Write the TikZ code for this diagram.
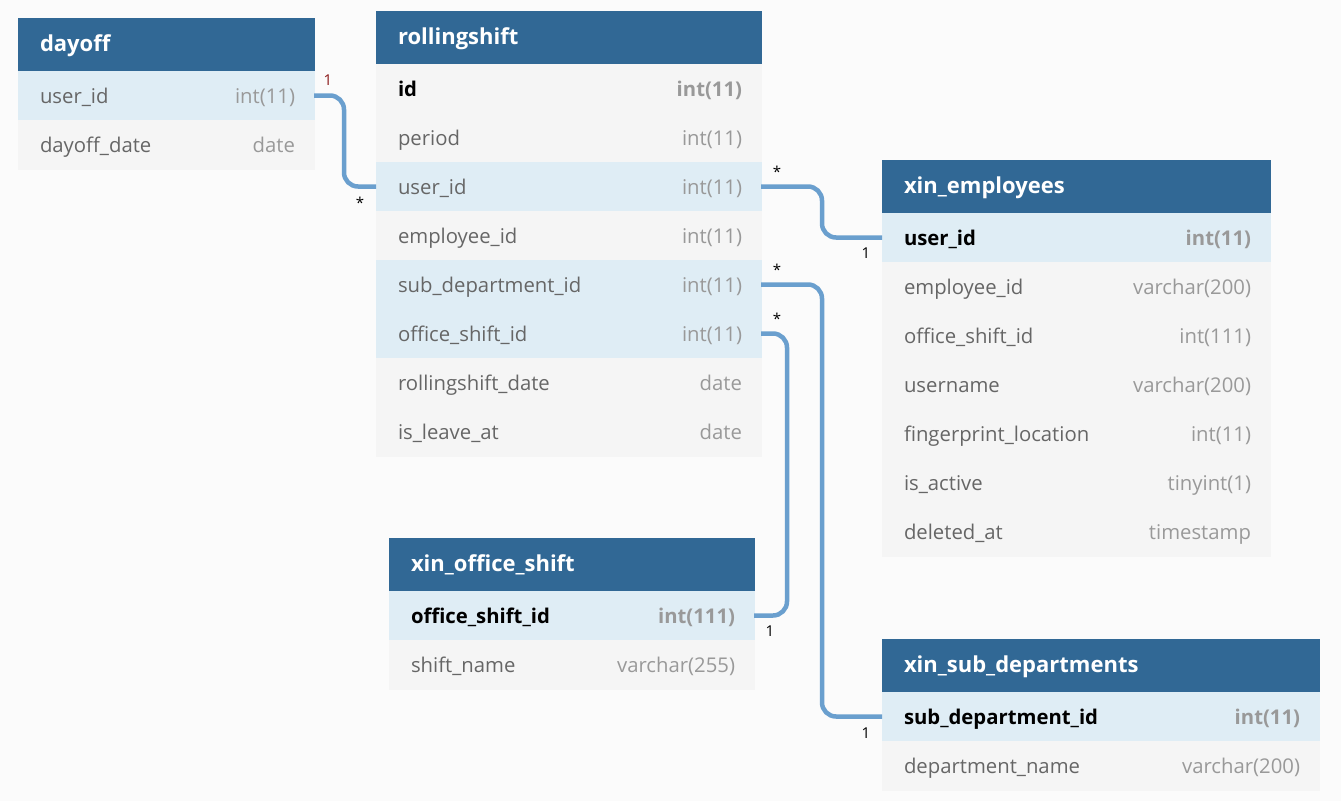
\documentclass[tikz,border=0pt]{standalone}
\usepackage{fontspec}
\setmainfont{Open Sans}
\usepackage{xcolor}
\usetikzlibrary{positioning}
\definecolor{headblue}{HTML}{316895}
\definecolor{rowblue}{HTML}{DFEDF5}
\definecolor{rowgray}{HTML}{F5F5F5}
\definecolor{pagebg}{HTML}{FBFBFB}
\definecolor{fieldgray}{HTML}{666666}
\definecolor{typegray}{HTML}{999999}
\definecolor{linkblue}{HTML}{6A9FCE}
\definecolor{onered}{HTML}{8B1A1A}
\newcommand\fld[2]{\hbox to \hsize{\color{fieldgray}#1\hfill\color{typegray}#2\kern-3pt}}
\newcommand\pk[2]{\hbox to \hsize{\bfseries\color{black}#1\hfill\color{typegray}#2\kern-3pt}}

\begin{document}
\begin{tikzpicture}[
  x=1pt, y=-1pt,
  node distance=0pt,
  every node/.style={font=\fontsize{20.3}{23}\selectfont, inner xsep=22pt, inner ysep=0pt},
  head/.style={fill=headblue, draw=headblue, line width=0.6pt, outer sep=0pt, text=white,
               font=\fontsize{22}{25}\selectfont\bfseries, minimum height=53pt,
               text height=18pt, text depth=4pt},
  row/.style={fill=rowgray, draw=rowgray, line width=0.6pt, outer sep=0pt, minimum height=49pt,
              text height=18pt, text depth=2pt},
  hrow/.style={row, fill=rowblue, draw=rowblue},
  card/.style={font=\fontsize{15}{17}\selectfont, inner sep=0pt},
  rel/.style={draw=linkblue, line width=4.5pt, rounded corners=14pt}
]
\fill[pagebg] (0,0) rectangle (1341,801);
\useasboundingbox (0,0) rectangle (1341,801);

% dayoff
\begin{scope}[every node/.append style={text width=252pt}]
\node[head, anchor=north west] (dh) at (18,18) {dayoff};
\node[hrow, below=of dh] (d-uid) {\fld{user\_id}{int(11)}};
\node[row, below=of d-uid] (d-date) {\fld{dayoff\_date}{date}};
\end{scope}

% rollingshift
\begin{scope}[every node/.append style={text width=341pt}]
\node[head, anchor=north west] (rh) at (376,11) {rollingshift};
\node[row, below=of rh] (r-id) {\pk{id}{int(11)}};
\node[row, below=of r-id] (r-per) {\fld{period}{int(11)}};
\node[hrow, below=of r-per] (r-uid) {\fld{user\_id}{int(11)}};
\node[row, below=of r-uid] (r-eid) {\fld{employee\_id}{int(11)}};
\node[hrow, below=of r-eid] (r-sdid) {\fld{sub\_department\_id}{int(11)}};
\node[hrow, below=of r-sdid] (r-osid) {\fld{office\_shift\_id}{int(11)}};
\node[row, below=of r-osid] (r-date) {\fld{rollingshift\_date}{date}};
\node[row, below=of r-date] (r-leave) {\fld{is\_leave\_at}{date}};
\end{scope}

% xin_employees
\begin{scope}[every node/.append style={text width=344pt}]
\node[head, anchor=north west] (eh) at (882,160) {xin\_employees};
\node[hrow, below=of eh] (e-uid) {\pk{user\_id}{int(11)}};
\node[row, below=of e-uid] (e-eid) {\fld{employee\_id}{varchar(200)}};
\node[row, below=of e-eid] (e-osid) {\fld{office\_shift\_id}{int(111)}};
\node[row, below=of e-osid] (e-user) {\fld{username}{varchar(200)}};
\node[row, below=of e-user] (e-fp) {\fld{fingerprint\_location}{int(11)}};
\node[row, below=of e-fp] (e-act) {\fld{is\_active}{tinyint(1)}};
\node[row, below=of e-act] (e-del) {\fld{deleted\_at}{timestamp}};
\end{scope}

% xin_office_shift
\begin{scope}[every node/.append style={text width=321pt}]
\node[head, anchor=north west] (oh) at (389,538) {xin\_office\_shift};
\node[hrow, below=of oh] (o-osid) {\pk{office\_shift\_id}{int(111)}};
\node[row, below=of o-osid] (o-name) {\fld{shift\_name}{varchar(255)}};
\end{scope}

% xin_sub_departments
\begin{scope}[every node/.append style={text width=393pt}]
\node[head, anchor=north west] (sh) at (882,639) {xin\_sub\_departments};
\node[hrow, below=of sh] (s-sdid) {\pk{sub\_department\_id}{int(11)}};
\node[row, below=of s-sdid] (s-name) {\fld{department\_name}{varchar(200)}};
\end{scope}

% relations
\draw[rel] (d-uid.east) -- ++(30,0) |- (r-uid.west);
\draw[rel] (r-uid.east) -- ++(61,0) |- (e-uid.west);
\draw[rel] (r-sdid.east) -- ++(61,0) |- (s-sdid.west);
\draw[rel] (r-osid.east) -- ++(26,0) |- (o-osid.east);

\node[card, text=onered] (c1) at (328,80) {1};
\node[card] (c2) at (360,203) {*};
\node[card] (c3) at (777,172) {*};
\node[card] (c4) at (866,253) {1};
\node[card] (c5) at (777,270) {*};
\node[card] (c6) at (866,733) {1};
\node[card] (c7) at (777,319) {*};
\node[card] (c8) at (770,631) {1};
\end{tikzpicture}
\end{document}
